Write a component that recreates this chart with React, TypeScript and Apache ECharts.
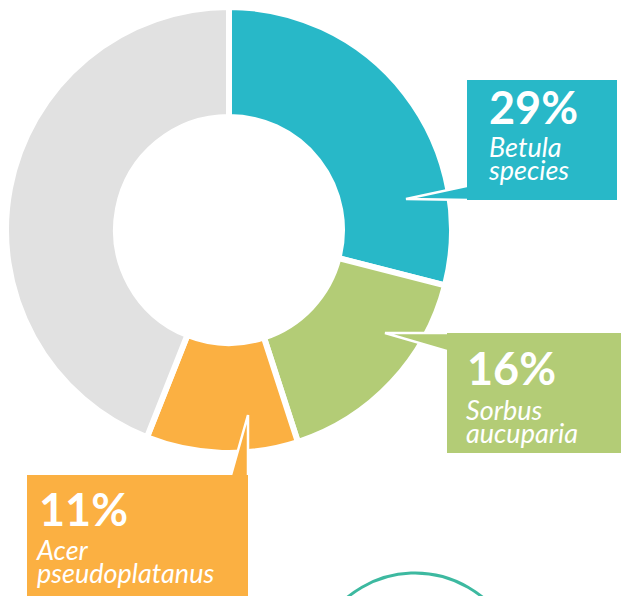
import React, { useEffect, useRef } from "react";
import * as echarts from "echarts";

const names = ["Betula species", "Sorbus aucuparia", "Acer pseudoplatanus", "Other"];
const values = [29, 16, 11, 44];
const colors = ["#28B8C8", "#B3CC76", "#FBB042", "#E1E1E1"];
const nameLines = [["Betula", "species"], ["Sorbus", "aucuparia"], ["Acer", "pseudoplatanus"]];

export default function App() {
  const ref = useRef<HTMLDivElement>(null);
  useEffect(() => {
    if (!ref.current) return;
    const chart = echarts.init(ref.current, undefined, { renderer: "svg" });

    const callouts = [
      { box: [467, 80, 150, 120], ptr: [[406, 199], [470, 185.4], [470, 200]], px: 489, py: 84, nx: 489, ny: 135 },
      { box: [447, 333, 174, 120], ptr: [[385, 333], [450, 333], [450, 351.9]], px: 467, py: 345, nx: 466, ny: 398 },
      { box: [27, 475, 221, 140], ptr: [[248, 415], [248, 478], [230.2, 478]], px: 39, py: 486, nx: 37, ny: 538 },
    ];

    const graphics: any[] = [];
    callouts.forEach((c, i) => {
      graphics.push({
        type: "polygon",
        z: 100,
        shape: { points: c.ptr },
        style: { fill: colors[i], stroke: "#fff", lineWidth: 2.5 },
      });
      graphics.push({
        type: "rect",
        z: 101,
        shape: { x: c.box[0], y: c.box[1], width: c.box[2], height: c.box[3] },
        style: { fill: colors[i] },
      });
      graphics.push({
        type: "text",
        z: 102,
        x: c.px,
        y: c.py,
        style: {
          text: `${values[i]}%`,
          fill: "#fff",
          font: "bold 45px Lato",
          verticalAlign: "top",
          align: "left",
        },
      });
      nameLines[i].forEach((line, j) => {
        graphics.push({
          type: "text",
          z: 102,
          x: c.nx,
          y: c.ny + j * 23,
          style: {
            text: line,
            fill: "#fff",
            font: "italic 27px Lato",
            lineHeight: 23,
            verticalAlign: "top",
            align: "left",
          },
        });
      });
    });
    graphics.push({
      type: "circle",
      z: 100,
      shape: { cx: 415, cy: 679, r: 106 },
      style: { fill: "none", stroke: "#3DB9A0", lineWidth: 3 },
    });

    chart.setOption({
      animation: false,
      series: [
        {
          type: "pie",
          center: [229, 230],
          radius: [113, 223],
          startAngle: 90,
          clockwise: true,
          label: { show: false },
          labelLine: { show: false },
          emphasis: { disabled: true },
          itemStyle: { borderColor: "#fff", borderWidth: 6 },
          data: names.map((n, i) => ({ name: n, value: values[i], itemStyle: { color: colors[i] } })),
        },
      ],
      graphic: graphics,
    });
    return () => chart.dispose();
  }, []);
  return (
    <div
      ref={ref}
      style={{ position: "fixed", left: 0, top: 0, width: 621, height: 596, background: "#fff" }}
    />
  );
}
